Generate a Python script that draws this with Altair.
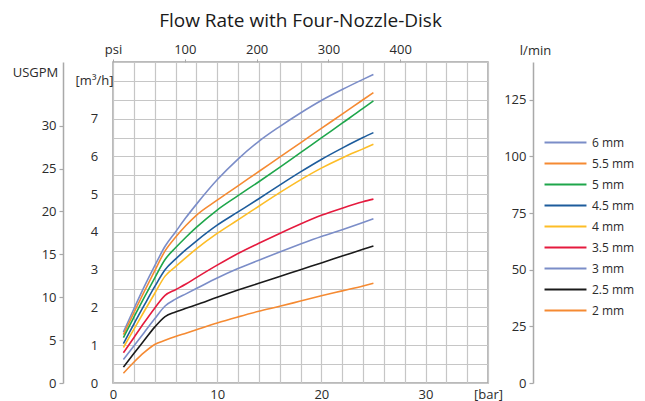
import altair as alt
import pandas as pd

# ---------------- data ----------------
pressure_bar = [1, 2, 3, 4, 5, 6, 7, 8, 10, 12, 14, 16, 18, 20, 22, 24, 25]

flow_6_0 = [1.35, 1.96, 2.55, 3.10, 3.62, 4.00, 4.38, 4.73, 5.38, 5.93, 6.40, 6.79, 7.15, 7.48, 7.77, 8.04, 8.17]
flow_5_5 = [1.28, 1.86, 2.42, 2.97, 3.50, 3.86, 4.17, 4.44, 4.84, 5.22, 5.60, 5.98, 6.36, 6.74, 7.12, 7.50, 7.69]
flow_5_0 = [1.20, 1.74, 2.27, 2.78, 3.27, 3.58, 3.86, 4.12, 4.58, 4.96, 5.33, 5.71, 6.10, 6.49, 6.88, 7.27, 7.47]
flow_4_5 = [1.04, 1.56, 2.06, 2.55, 3.00, 3.28, 3.53, 3.76, 4.18, 4.53, 4.88, 5.24, 5.59, 5.92, 6.22, 6.50, 6.63]
flow_4_0 = [0.94, 1.42, 1.90, 2.37, 2.83, 3.08, 3.32, 3.55, 3.96, 4.32, 4.68, 5.04, 5.38, 5.69, 5.96, 6.20, 6.32]
flow_3_5 = [0.80, 1.20, 1.60, 1.98, 2.32, 2.47, 2.62, 2.79, 3.12, 3.43, 3.70, 3.96, 4.21, 4.44, 4.63, 4.80, 4.87]
flow_3_0 = [0.62, 0.98, 1.34, 1.70, 2.04, 2.22, 2.36, 2.50, 2.78, 3.03, 3.25, 3.47, 3.68, 3.88, 4.06, 4.25, 4.35]
flow_2_5 = [0.42, 0.78, 1.13, 1.48, 1.76, 1.88, 1.98, 2.07, 2.27, 2.46, 2.64, 2.82, 3.00, 3.18, 3.36, 3.54, 3.63]
flow_2_0 = [0.26, 0.55, 0.81, 1.02, 1.13, 1.23, 1.32, 1.41, 1.59, 1.75, 1.90, 2.03, 2.17, 2.31, 2.44, 2.57, 2.64]

sizes = ["6 mm", "5.5 mm", "5 mm", "4.5 mm", "4 mm", "3.5 mm", "3 mm", "2.5 mm", "2 mm"]
series = [flow_6_0, flow_5_5, flow_5_0, flow_4_5, flow_4_0, flow_3_5, flow_3_0, flow_2_5, flow_2_0]
colors = ["#7b8dc8", "#f58a32", "#1ea64b", "#1d5c9c", "#fdbd26", "#e51a3e", "#7b8dc8", "#1a1a1a", "#f58a32"]

bar_grid = list(range(0, 37, 2))
flow_grid = [i * 0.5 for i in range(18)]
psi_ticks = [0, 100, 200, 300, 400]
usgpm_ticks = [0, 5, 10, 15, 20, 25, 30]
lmin_ticks = [0, 25, 50, 75, 100, 125]

BAR_MAX = 36
M3H_MAX = 8.5
PSI_PER_BAR = 14.5038
USGPM_PER_M3H = 4.40287
LMIN_PER_M3H = 1000 / 60

rows = []
for s, vals in zip(sizes, series):
    for p, v in zip(pressure_bar, vals):
        rows.append({"bar": p, "flow": v, "size": s})
df = pd.DataFrame(rows)

FONT = "Open Sans"
TXT = "#2b2b2b"
GRID = "#c6c6c6"
AXC = "#a9a9a9"

lines = alt.Chart(df).mark_line(strokeWidth=1.6, interpolate="monotone").encode(
    x=alt.X("bar:Q",
            scale=alt.Scale(domain=[0, BAR_MAX], nice=False, zero=False),
            axis=alt.Axis(values=bar_grid, title=None, ticks=False, domain=False,
                          grid=True, gridColor=GRID, gridWidth=1.2, gridOpacity=1,
                          labelFlush=False, labelOverlap=False, labelPadding=5,
                          labelFont=FONT, labelFontSize=13, labelColor=TXT,
                          labelExpr="datum.value == 36 ? '[bar]' : (datum.value % 10 == 0 ? '' + datum.value : '')")),
    y=alt.Y("flow:Q",
            scale=alt.Scale(domain=[0, M3H_MAX], nice=False, zero=False),
            axis=alt.Axis(values=flow_grid, title=None, ticks=False, domain=False,
                          grid=True, gridColor=GRID, gridWidth=1.2, gridOpacity=1,
                          labelOverlap=False, labelAlign="center", labelPadding=19,
                          labelFont=FONT, labelFontSize=13, labelColor=TXT,
                          labelExpr="datum.value == 8 ? '[m³/h]' : ((datum.value % 1 == 0 && datum.value <= 7) ? '' + datum.value : '')")),
    color=alt.Color("size:N", sort=sizes,
                    scale=alt.Scale(domain=sizes, range=colors),
                    legend=alt.Legend(orient="none", legendX=446, legendY=74, title=None,
                                      symbolType="M-4,0H4", symbolSize=110, symbolStrokeWidth=1.8,
                                      labelFont=FONT, labelFontSize=12, labelColor=TXT,
                                      labelOffset=20, rowPadding=8)),
)

psi_df = pd.DataFrame({"psi": psi_ticks, "zero": [0] * len(psi_ticks)})
psi_layer = alt.Chart(psi_df).mark_point(opacity=0).encode(
    x=alt.X("psi:Q",
            scale=alt.Scale(domain=[0, BAR_MAX * PSI_PER_BAR], nice=False, zero=False),
            axis=alt.Axis(orient="top", values=psi_ticks, title=None, domain=False,
                          grid=False, ticks=True, tickSize=3, tickColor=AXC,
                          labelFlush=False, labelOverlap=False, labelPadding=3,
                          labelFont=FONT, labelFontSize=13, labelColor=TXT,
                          labelExpr="datum.value == 0 ? 'psi' : '' + datum.value")),
    y=alt.Y("zero:Q", scale=alt.Scale(domain=[0, 1]), axis=None),
)

usg_df = pd.DataFrame({"usgpm": usgpm_ticks, "zero": [0] * len(usgpm_ticks)})
usg_layer = alt.Chart(usg_df).mark_point(opacity=0).encode(
    x=alt.X("zero:Q", scale=alt.Scale(domain=[0, 1]), axis=None),
    y=alt.Y("usgpm:Q",
            scale=alt.Scale(domain=[0, M3H_MAX * USGPM_PER_M3H], nice=False, zero=False),
            axis=alt.Axis(orient="left", offset=50, values=usgpm_ticks,
                          domain=True, domainColor=AXC, domainWidth=1.5,
                          ticks=True, tickSize=4, tickColor=AXC, tickWidth=1.2,
                          grid=False, labelPadding=3, labelOverlap=False,
                          labelFont=FONT, labelFontSize=13, labelColor=TXT,
                          title="USGPM", titleAngle=0, titleX=-28, titleY=10,
                          titleAlign="center", titleBaseline="middle",
                          titleFont=FONT, titleFontSize=13, titleFontWeight="normal",
                          titleColor=TXT)),
)

lmin_df = pd.DataFrame({"lmin": lmin_ticks, "zero": [0] * len(lmin_ticks)})
lmin_layer = alt.Chart(lmin_df).mark_point(opacity=0).encode(
    x=alt.X("zero:Q", scale=alt.Scale(domain=[0, 1]), axis=None),
    y=alt.Y("lmin:Q",
            scale=alt.Scale(domain=[0, M3H_MAX * LMIN_PER_M3H], nice=False, zero=False),
            axis=alt.Axis(orient="left", offset=-420, values=lmin_ticks,
                          domain=True, domainColor=AXC, domainWidth=1.5,
                          ticks=True, tickSize=4, tickColor=AXC, tickWidth=1.2,
                          grid=False, labelPadding=3, labelOverlap=False,
                          labelFont=FONT, labelFontSize=13, labelColor=TXT,
                          title="l/min", titleAngle=0, titleX=2, titleY=-12,
                          titleAlign="center", titleBaseline="middle",
                          titleFont=FONT, titleFontSize=13, titleFontWeight="normal",
                          titleColor=TXT)),
)

chart = alt.layer(lines, psi_layer, usg_layer, lmin_layer).resolve_scale(
    x="independent", y="independent", color="independent"
).properties(
    width=375, height=321,
    padding={"left": 105, "top": 54, "right": 149, "bottom": 22},
    autosize=alt.AutoSizeParams(type="none"),
    title=alt.TitleParams("Flow Rate with Four-Nozzle-Disk", font=FONT, fontSize=19,
                          fontWeight="normal", color="#1a1a1a", anchor="middle", offset=12),
).configure_view(stroke="#a4a4a4", strokeWidth=1.5)

chart.save("out.html", embed_options={"renderer": "svg", "actions": False})
